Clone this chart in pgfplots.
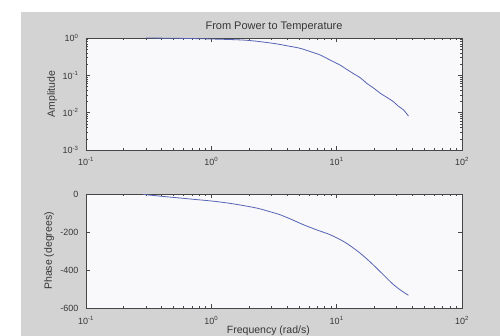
\documentclass[border=0pt]{standalone}
\usepackage{pgfplots}
\pgfplotsset{compat=1.18}
\usepackage{fontspec}
\setmainfont{Liberation Sans}
\definecolor{figbg}{RGB}{211,211,211}
\definecolor{axbg}{RGB}{249,248,250}
\definecolor{axln}{RGB}{70,70,70}
\definecolor{txt}{RGB}{55,55,55}
\definecolor{curve}{RGB}{85,100,180}
\pgfplotstableread{
w a
0.30 1.0
0.6 0.975
1.0 0.94
1.9 0.87
3.1 0.72
4.0 0.62
5.1 0.53
6.2 0.43
7.4 0.35
9.0 0.25
10.6 0.19
12.0 0.145
13.5 0.113
15.5 0.085
17.4 0.061
20.0 0.044
22.3 0.033
25.0 0.026
28.4 0.0196
31.0 0.015
34.2 0.0118
37.4 0.0081
}\amptab
\pgfplotstableread{
w p
0.286 -2
0.4 -12
0.56 -21
0.75 -29
1.04 -38
1.5 -52
2.3 -74
3.0 -95
3.53 -109
4.4 -135
5.4 -161
7.0 -190
8.85 -214
11.5 -252
14.5 -298
17.5 -343
20.9 -391
24.5 -436
28.3 -476
33 -510
37.4 -533
}\phtab
\begin{document}
\begin{tikzpicture}[x=1pt,y=1pt]
\useasboundingbox (0,0) rectangle (500,336);
\clip (0,0) rectangle (500,336);
\fill[white] (0,0) rectangle (500,336);
\fill[figbg] (21,0) rectangle (500,324);
\begin{axis}[
  scale only axis, width=376pt, height=112pt,
  at={(86pt,186pt)}, anchor=south west,
  axis background/.style={fill=axbg},
  axis line style={axln, line width=0.6pt},
  every tick/.append style={axln, line width=0.5pt},
  tick align=inside,
  major tick length=4pt, minor tick length=2pt,
  xmode=log, xmin=0.1, xmax=100,
  xtick={0.1,1,10,100},
  xticklabels={10\textsuperscript{-1},10\textsuperscript{0},10\textsuperscript{1},10\textsuperscript{2}},
  tick label style={font=\fontsize{9}{10}\selectfont, text=txt},
  xticklabel style={yshift=-4pt},
  yticklabel style={xshift=-4pt},
  ymode=log, ymin=1e-3, ymax=1,
  ytick={1e-3,1e-2,1e-1,1},
  yticklabels={10\textsuperscript{-3},10\textsuperscript{-2},10\textsuperscript{-1},10\textsuperscript{0}},
  title={From Power to Temperature},
  title style={font=\fontsize{11}{13}\selectfont, text=txt, at={(0.5,1)}, anchor=south, yshift=-3.5pt},
  ylabel={Amplitude},
  ylabel style={font=\fontsize{10.5}{12}\selectfont, text=txt, at={(-0.09,0.5)}, anchor=center},
]
\addplot[curve, line width=0.8pt, smooth, tension=0.5] table[x=w,y=a] {\amptab};
\end{axis}
\begin{axis}[
  scale only axis, width=376pt, height=114pt,
  at={(86pt,28pt)}, anchor=south west,
  axis background/.style={fill=axbg},
  axis line style={axln, line width=0.6pt},
  every tick/.append style={axln, line width=0.5pt},
  tick align=inside,
  major tick length=4pt, minor tick length=2pt,
  xmode=log, xmin=0.1, xmax=100,
  xtick={0.1,1,10,100},
  xticklabels={10\textsuperscript{-1},10\textsuperscript{0},10\textsuperscript{1},10\textsuperscript{2}},
  tick label style={font=\fontsize{9}{10}\selectfont, text=txt},
  xticklabel style={yshift=-5pt},
  yticklabel style={xshift=-4pt},
  ymin=-600, ymax=0,
  ytick={-600,-400,-200,0},
  yticklabels={-600,-400,-200,0},
  ylabel={Phase (degrees)},
  ylabel style={font=\fontsize{10.5}{12}\selectfont, text=txt, at={(-0.098,0.5)}, anchor=center},
  xlabel={Frequency (rad/s)},
  xlabel style={font=\fontsize{10.5}{12}\selectfont, text=txt, at={(0.485,0)}, anchor=center, yshift=-22.5pt},
]
\addplot[curve, line width=0.8pt, smooth, tension=0.5] table[x=w,y=p] {\phtab};
\end{axis}
\end{tikzpicture}
\end{document}
